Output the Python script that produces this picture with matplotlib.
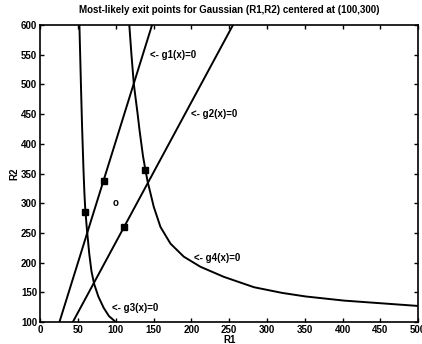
import matplotlib
matplotlib.use("Agg")
import matplotlib.pyplot as plt

plt.rcParams['font.family'] = ['Liberation Sans', 'DejaVu Sans']

# boundary curves g_i(x)=0 (R1, R2)
g1_r1 = [25.6, 148.0]
g1_r2 = [100, 600]

g2_r1 = [43.3, 255.0]
g2_r2 = [100, 600]

g3_r1 = [52.0, 54.0, 55.5, 57.4, 58.5, 59.5, 61.0, 62.0, 63.5, 65.0, 68.0, 71.5, 77.0, 84.0, 91.0, 100.0]
g3_r2 = [600, 500, 430, 356, 320, 295, 270, 255, 235, 215, 185, 164, 143, 124, 110, 100]

g4_r1 = [118.0, 120.7, 124.0, 129.0, 131.5, 136.0, 139.3, 142.3, 150.3, 159.2, 172.4, 190.0,
         212.0, 243.0, 283.0, 320.0, 351.0, 402.0, 451.0, 500.0]
g4_r2 = [600, 552, 500, 450, 423, 380, 356, 336, 294, 260, 232, 210,
         193, 176, 158.5, 149, 143, 136, 131.5, 127]

# most likely exit points and the centre
exit_r1 = [60, 84, 139, 111]
exit_r2 = [285, 338, 356, 260]
centre = (100, 300)

labels = ['<- g1(x)=0', '<- g2(x)=0', '<- g3(x)=0', '<- g4(x)=0']
label_r1 = [145, 200, 95, 203]
label_r2 = [550, 450, 123, 208]

fig = plt.figure(figsize=(4.22, 3.44), dpi=100)
ax = fig.add_axes([0.095, 0.064, 0.896, 0.863])

for xs, ys in [(g1_r1, g1_r2), (g2_r1, g2_r2), (g3_r1, g3_r2), (g4_r1, g4_r2)]:
    ax.plot(xs, ys, color='black', lw=1.4)

ax.plot(exit_r1, exit_r2, 's', color='black', ms=4.5)
ax.text(centre[0], centre[1], 'o', fontsize=7, fontweight='bold', ha='center', va='center')

for t, x, y in zip(labels, label_r1, label_r2):
    ax.text(x, y, t, fontsize=7, fontweight='bold', ha='left', va='center')

ax.set_xlim(0, 500)
ax.set_ylim(100, 600)
ax.set_xticks(range(0, 501, 50))
ax.set_yticks(range(100, 601, 50))
ax.tick_params(direction='in', length=3, width=1, labelsize=7, top=True, right=True, pad=2)
for lab in ax.get_xticklabels() + ax.get_yticklabels():
    lab.set_fontweight('bold')
for s in ax.spines.values():
    s.set_linewidth(1.2)

ax.set_title('Most-likely exit points for Gaussian (R1,R2) centered at (100,300)',
             fontsize=7, fontweight='bold', pad=9)
ax.set_xlabel('R1', fontsize=7, fontweight='bold', labelpad=0)
ax.set_ylabel('R2', fontsize=7, fontweight='bold', labelpad=1)

fig.savefig('out.png', dpi=100)
